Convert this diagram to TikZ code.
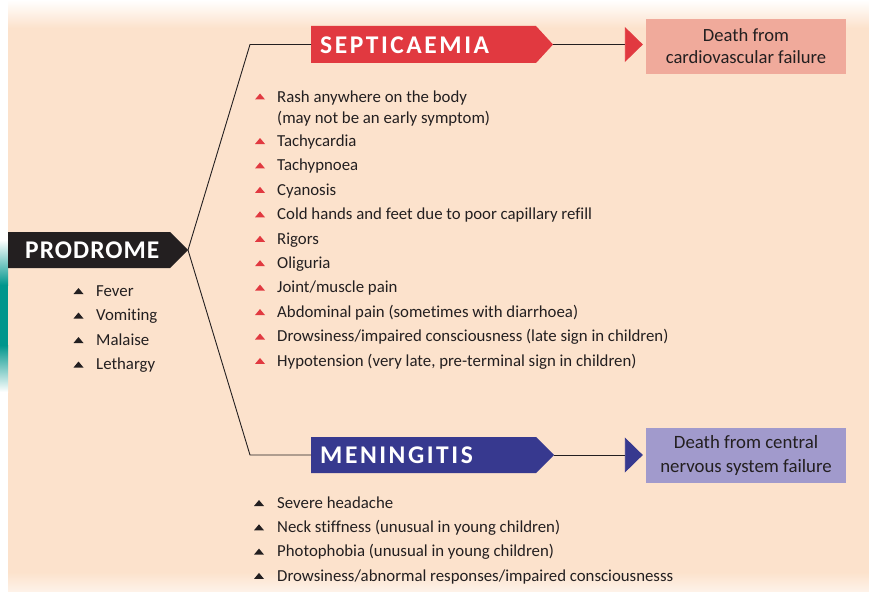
\documentclass[tikz,border=0pt]{standalone}
\usepackage{fontspec}
\setmainfont{Carlito}[Ligatures=NoCommon]
\usetikzlibrary{arrows.meta}
\definecolor{peach}{RGB}{252,226,204}
\definecolor{inkdark}{RGB}{35,31,32}
\definecolor{sepred}{RGB}{225,57,64}
\definecolor{sepsalmon}{RGB}{240,170,155}
\definecolor{menblue}{RGB}{55,57,143}
\definecolor{menlilac}{RGB}{161,154,204}
\definecolor{edgeteal}{RGB}{0,150,140}
\tikzset{
  stagetext/.style={anchor=west, inner sep=0pt, text=white, font=\fontsize{25.5}{25}\selectfont\bfseries\addfontfeatures{LetterSpace=#1}},
  stagetext/.default=10,
  outcome/.style={minimum width=200pt, minimum height=55pt, inner sep=0pt, align=center, text=inkdark},
  item/.style={anchor=west, inner sep=0pt, text height=12pt, text depth=3.5pt, text=inkdark, font=\fontsize{16.8}{20}\selectfont},
  link/.style={inkdark, line width=0.9pt},
  tri/.pic={\fill (-5,2.5) -- (5,2.5) -- (0,-3.5) -- cycle;},
}

\begin{document}
\begin{tikzpicture}[x=1pt,y=-1pt]
\useasboundingbox (0,0) rectangle (869,591);
% background
\fill[peach] (8,0) rectangle (869,591);
\shade[top color=white, bottom color=peach] (8,0) rectangle (869,28);
\shade[top color=peach, bottom color=peach!45!white] (8,572) rectangle (869,591);
\shade[top color=white, bottom color=edgeteal] (0,240) rectangle (8,285);
\fill[edgeteal] (0,285) rectangle (8,345);
\shade[top color=edgeteal, bottom color=white] (0,345) rectangle (8,392);

% stages
\fill[inkdark] (8,232) -- (170,232) -- (188,250) -- (170,268) -- (8,268) -- cycle;
\fill[sepred] (311,26) -- (536,26) -- (553,44.5) -- (536,63) -- (311,63) -- cycle;
\fill[menblue] (311,437) -- (536,437) -- (554,455) -- (536,473) -- (311,473) -- cycle;
\node[stagetext=4] (prodrome) at (25,250.5) {PRODROME};
\node[stagetext] (septicaemia) at (320,45) {SEPTICAEMIA};
\node[stagetext] (meningitis) at (320,455.5) {MENINGITIS};
\coordinate (prodtip) at (188,250);
\coordinate (septip) at (553,44.5);
\coordinate (mentip) at (554,455);
\coordinate (sepleft) at (311,44.5);
\coordinate (menleft) at (311,455);
\coordinate (forkx) at (250,0);

% outcomes
\node[outcome, fill=sepsalmon, font=\fontsize{18.6}{22}\selectfont] (sepdeath) at (746,46.5) {Death from\\cardiovascular failure};
\node[outcome, fill=menlilac, font=\fontsize{18.8}{24}\selectfont] (mendeath) at (746,455.5) {Death from central\\nervous system failure};

% connectors
\draw[link] (sepleft) -- (sepleft -| forkx) -- (prodtip) -- (menleft -| forkx) -- (menleft);
\draw[link, shorten >=3pt, -{Triangle[length=18pt,width=35pt,color=sepred]}] (septip) -- (septip -| sepdeath.west);
\draw[link, shorten >=3pt, -{Triangle[length=18pt,width=35pt,color=menblue]}] (mentip) -- (mentip -| mendeath.west);

% prodrome signs
\foreach \sym [count=\i, evaluate=\i as \y using 292+24.5*(\i-1)] in {Fever, Vomiting, Malaise, Lethargy} {
  \node[item] (prodsym\i) at (96,\y) {\sym};
  \pic[inkdark] at (78.5,\y-0.5) {tri};
}

% septicaemia signs
\node[item] (rash) at (277,98) {Rash anywhere on the body};
\node[item] (rashnote) at (277,119) {(may not be an early symptom)};
\pic[sepred] at (260,97) {tri};
\foreach \sym [count=\i, evaluate=\i as \y using 142+24.44*(\i-1)] in {Tachycardia, Tachypnoea, Cyanosis, Cold hands and feet due to poor capillary refill, Rigors, Oliguria, Joint/muscle pain, Abdominal pain (sometimes with diarrhoea), Drowsiness/impaired consciousness (late sign in children), {Hypotension (very late, pre-terminal sign in children)}} {
  \node[item] (sepsym\i) at (277,\y) {\sym};
  \pic[sepred] at (260,\y-0.5) {tri};
}

% meningitis signs
\foreach \sym [count=\i, evaluate=\i as \y using 504+24.3*(\i-1)] in {Severe headache, Neck stiffness (unusual in young children), Photophobia (unusual in young children), Drowsiness/abnormal responses/impaired consciousnesss} {
  \node[item] (mensym\i) at (277,\y) {\sym};
  \pic[inkdark] at (259,\y-0.5) {tri};
}
\end{tikzpicture}
\end{document}
